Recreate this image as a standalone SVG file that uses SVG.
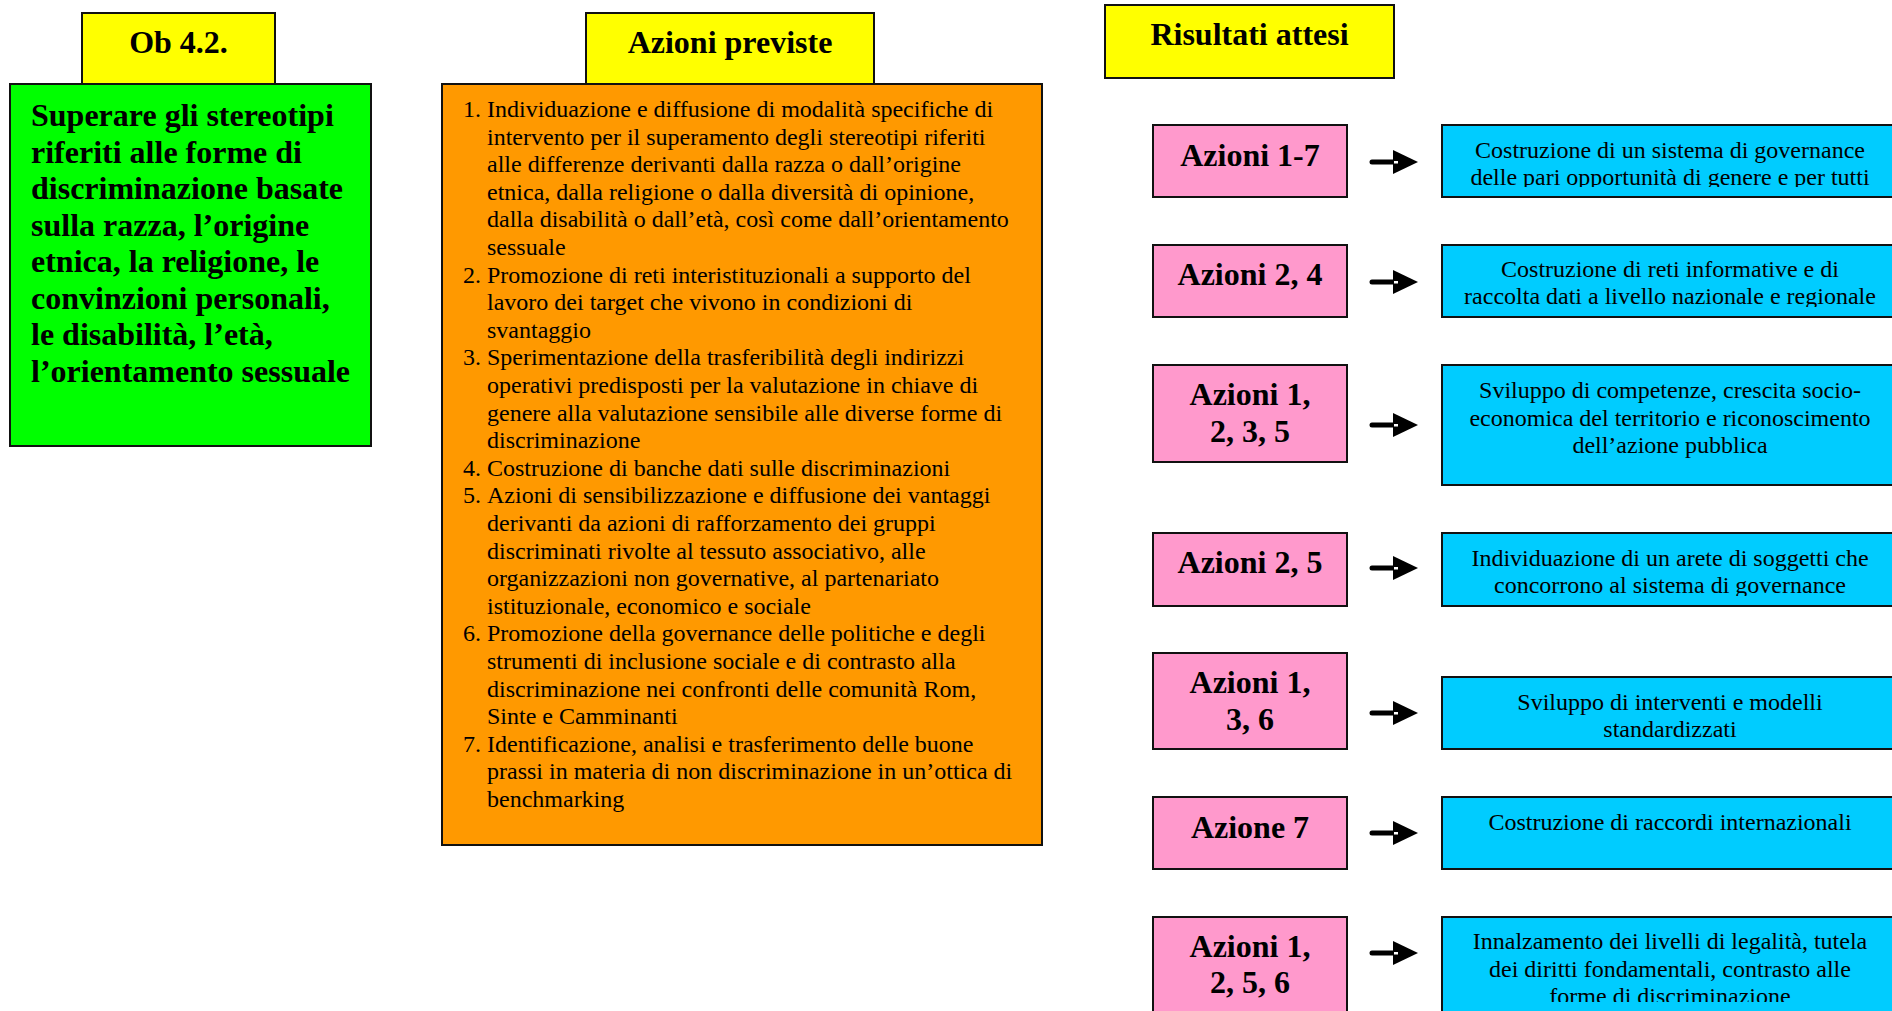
<svg xmlns="http://www.w3.org/2000/svg" xmlns:xlink="http://www.w3.org/1999/xlink" width="1892" height="1011" viewBox="0 0 1892 1011">
<style>
  .box { stroke: #111; stroke-width: 2; }
  .yellow { fill: #FFFF00; }
  .green { fill: #00FF00; }
  .orange { fill: #FF9900; }
  .pink { fill: #FF99CC; }
  .blue { fill: #00CCFF; }
  .hdr { font-family: "Liberation Serif", "Times New Roman", serif; font-weight: bold; font-size: 32px; fill: #000; }
  .obj { font-family: "Liberation Serif", "Times New Roman", serif; font-weight: bold; font-size: 32px; fill: #000; }
  .body { font-family: "Liberation Serif", "Times New Roman", serif; font-size: 24px; fill: #000; }
  .mid { text-anchor: middle; }
</style>
<defs>
  <g id="arrow">
    <line x1="0" y1="0" x2="24" y2="0" stroke="#000" stroke-width="5" stroke-linecap="round"/>
    <polygon points="21,-12 46,0 21,12" fill="#000"/>
    <rect x="22" y="-1" width="4" height="2.5" fill="#fff"/>
  </g>
  <clipPath id="c1"><rect x="1442" y="125" width="460" height="62"/></clipPath>
  <clipPath id="c2"><rect x="1442" y="245" width="460" height="62"/></clipPath>
  <clipPath id="c3"><rect x="1442" y="365" width="460" height="110"/></clipPath>
  <clipPath id="c4"><rect x="1442" y="533" width="460" height="63"/></clipPath>
  <clipPath id="c5"><rect x="1442" y="677" width="460" height="62"/></clipPath>
  <clipPath id="c6"><rect x="1442" y="797" width="460" height="62"/></clipPath>
  <clipPath id="c7"><rect x="1442" y="917" width="460" height="85"/></clipPath>
</defs>
<rect x="0" y="0" width="1892" height="1011" fill="#fff"/>

<!-- Column 1 -->
<g id="hdr-ob">
  <rect class="box yellow" x="82" y="13" width="193" height="71"/>
  <text class="hdr mid" x="178.5" y="53">Ob 4.2.</text>
</g>
<g id="objective">
  <rect class="box green" x="10" y="84" width="361" height="362"/>
  <text class="obj" x="31" y="126">Superare gli stereotipi</text>
  <text class="obj" x="31" y="162.5">riferiti alle forme di</text>
  <text class="obj" x="31" y="199">discriminazione basate</text>
  <text class="obj" x="31" y="235.5">sulla razza, l’origine</text>
  <text class="obj" x="31" y="272">etnica, la religione, le</text>
  <text class="obj" x="31" y="308.5">convinzioni personali,</text>
  <text class="obj" x="31" y="345">le disabilità, l’età,</text>
  <text class="obj" x="31" y="381.5">l’orientamento sessuale</text>
</g>

<!-- Column 2 -->
<g id="hdr-azioni">
  <rect class="box yellow" x="586" y="13" width="288" height="71"/>
  <text class="hdr mid" x="730" y="53">Azioni previste</text>
</g>
<g id="azioni">
  <rect class="box orange" x="442" y="84" width="600" height="761"/>
  <g class="body">
    <text x="463" y="117">1.</text>
    <text x="487" y="117">Individuazione e diffusione di modalità specifiche di</text>
    <text x="487" y="144.6">intervento per il superamento degli stereotipi riferiti</text>
    <text x="487" y="172.2">alle differenze derivanti dalla razza o dall’origine</text>
    <text x="487" y="199.8">etnica, dalla religione o dalla diversità di opinione,</text>
    <text x="487" y="227.4">dalla disabilità o dall’età, così come dall’orientamento</text>
    <text x="487" y="255">sessuale</text>
    <text x="463" y="282.6">2.</text>
    <text x="487" y="282.6">Promozione di reti interistituzionali a supporto del</text>
    <text x="487" y="310.2">lavoro dei target che vivono in condizioni di</text>
    <text x="487" y="337.8">svantaggio</text>
    <text x="463" y="365.4">3.</text>
    <text x="487" y="365.4">Sperimentazione della trasferibilità degli indirizzi</text>
    <text x="487" y="393">operativi predisposti per la valutazione in chiave di</text>
    <text x="487" y="420.6">genere alla valutazione sensibile alle diverse forme di</text>
    <text x="487" y="448.2">discriminazione</text>
    <text x="463" y="475.8">4.</text>
    <text x="487" y="475.8">Costruzione di banche dati sulle discriminazioni</text>
    <text x="463" y="503.4">5.</text>
    <text x="487" y="503.4">Azioni di sensibilizzazione e diffusione dei vantaggi</text>
    <text x="487" y="531">derivanti da azioni di rafforzamento dei gruppi</text>
    <text x="487" y="558.6">discriminati rivolte al tessuto associativo, alle</text>
    <text x="487" y="586.2">organizzazioni non governative, al partenariato</text>
    <text x="487" y="613.8">istituzionale, economico e sociale</text>
    <text x="463" y="641.4">6.</text>
    <text x="487" y="641.4">Promozione della governance delle politiche e degli</text>
    <text x="487" y="669">strumenti di inclusione sociale e di contrasto alla</text>
    <text x="487" y="696.6">discriminazione nei confronti delle comunità Rom,</text>
    <text x="487" y="724.2">Sinte e Camminanti</text>
    <text x="463" y="751.8">7.</text>
    <text x="487" y="751.8">Identificazione, analisi e trasferimento delle buone</text>
    <text x="487" y="779.4">prassi in materia di non discriminazione in un’ottica di</text>
    <text x="487" y="807">benchmarking</text>
  </g>
</g>

<!-- Column 3 -->
<g id="hdr-risultati">
  <rect class="box yellow" x="1105" y="5" width="289" height="73"/>
  <text class="hdr mid" x="1249.5" y="45">Risultati attesi</text>
</g>

<g id="az-1">
  <rect class="box pink" x="1153" y="125" width="194" height="72"/>
  <text class="hdr mid" x="1250" y="166">Azioni 1-7</text>
</g>
<g id="az-2">
  <rect class="box pink" x="1153" y="245" width="194" height="72"/>
  <text class="hdr mid" x="1250" y="285">Azioni 2, 4</text>
</g>
<g id="az-3">
  <rect class="box pink" x="1153" y="365" width="194" height="97"/>
  <text class="hdr mid" x="1250" y="405">Azioni 1,</text>
  <text class="hdr mid" x="1250" y="442">2, 3, 5</text>
</g>
<g id="az-4">
  <rect class="box pink" x="1153" y="533" width="194" height="73"/>
  <text class="hdr mid" x="1250" y="573">Azioni 2, 5</text>
</g>
<g id="az-5">
  <rect class="box pink" x="1153" y="653" width="194" height="96"/>
  <text class="hdr mid" x="1250" y="693">Azioni 1,</text>
  <text class="hdr mid" x="1250" y="730">3, 6</text>
</g>
<g id="az-6">
  <rect class="box pink" x="1153" y="797" width="194" height="72"/>
  <text class="hdr mid" x="1250" y="838">Azione 7</text>
</g>
<g id="az-7">
  <rect class="box pink" x="1153" y="917" width="194" height="110"/>
  <text class="hdr mid" x="1250" y="957">Azioni 1,</text>
  <text class="hdr mid" x="1250" y="993">2, 5, 6</text>
</g>

<g id="res-1">
  <rect class="box blue" x="1442" y="125" width="460" height="72"/>
  <g clip-path="url(#c1)" class="body mid">
    <text x="1670" y="158">Costruzione di un sistema di governance</text>
    <text x="1670" y="185">delle pari opportunità di genere e per tutti</text>
  </g>
</g>
<g id="res-2">
  <rect class="box blue" x="1442" y="245" width="460" height="72"/>
  <g clip-path="url(#c2)" class="body mid">
    <text x="1670" y="277">Costruzione di reti informative e di</text>
    <text x="1670" y="304">raccolta dati a livello nazionale e regionale</text>
  </g>
</g>
<g id="res-3">
  <rect class="box blue" x="1442" y="365" width="460" height="120"/>
  <g clip-path="url(#c3)" class="body mid">
    <text x="1670" y="398">Sviluppo di competenze, crescita socio-</text>
    <text x="1670" y="425.5">economica del territorio e riconoscimento</text>
    <text x="1670" y="453">dell’azione pubblica</text>
  </g>
</g>
<g id="res-4">
  <rect class="box blue" x="1442" y="533" width="460" height="73"/>
  <g clip-path="url(#c4)" class="body mid">
    <text x="1670" y="566">Individuazione di un arete di soggetti che</text>
    <text x="1670" y="593">concorrono al sistema di governance</text>
  </g>
</g>
<g id="res-5">
  <rect class="box blue" x="1442" y="677" width="460" height="72"/>
  <g clip-path="url(#c5)" class="body mid">
    <text x="1670" y="710">Sviluppo di interventi e modelli</text>
    <text x="1670" y="737">standardizzati</text>
  </g>
</g>
<g id="res-6">
  <rect class="box blue" x="1442" y="797" width="460" height="72"/>
  <g clip-path="url(#c6)" class="body mid">
    <text x="1670" y="830">Costruzione di raccordi internazionali</text>
  </g>
</g>
<g id="res-7">
  <rect class="box blue" x="1442" y="917" width="460" height="110"/>
  <g clip-path="url(#c7)" class="body mid">
    <text x="1670" y="949">Innalzamento dei livelli di legalità, tutela</text>
    <text x="1670" y="977">dei diritti fondamentali, contrasto alle</text>
    <text x="1670" y="1004">forme di discriminazione</text>
  </g>
</g>

<g id="connectors">
  <use xlink:href="#arrow" transform="translate(1372,162)"/>
  <use xlink:href="#arrow" transform="translate(1372,282)"/>
  <use xlink:href="#arrow" transform="translate(1372,425)"/>
  <use xlink:href="#arrow" transform="translate(1372,568)"/>
  <use xlink:href="#arrow" transform="translate(1372,713)"/>
  <use xlink:href="#arrow" transform="translate(1372,833)"/>
  <use xlink:href="#arrow" transform="translate(1372,953)"/>
</g>
</svg>
